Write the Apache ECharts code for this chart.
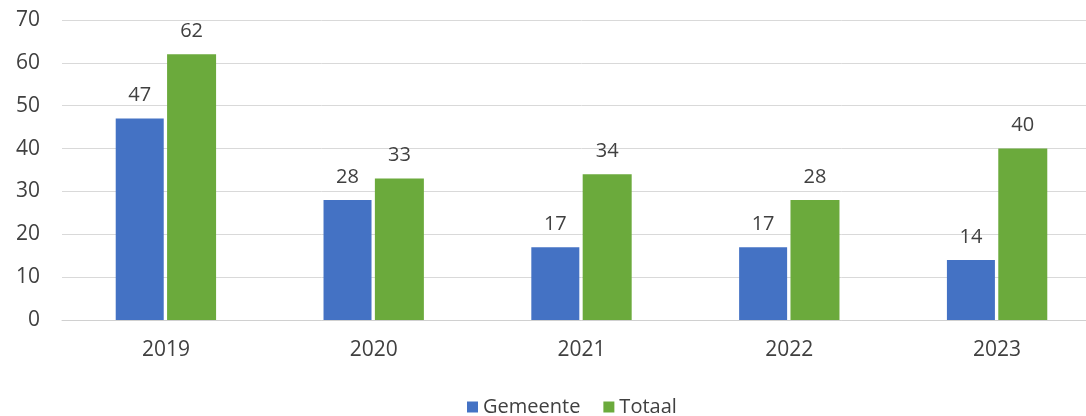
<!DOCTYPE html>
<html><head><meta charset="utf-8">
<script src="https://cdn.jsdelivr.net/npm/echarts@6/dist/echarts.min.js"></script>
<style>html,body{margin:0;padding:0;background:#fff;overflow:hidden;width:1086px;height:416px}#c{width:1110px;height:416px}</style>
</head><body><div id="c"></div>
<script>
const categories = ['2019','2020','2021','2022','2023'];
const gemeente = [47, 28, 17, 17, 14];
const totaal = [62, 33, 34, 28, 40];
const yTicks = {min:0, max:70, interval:10};

const font = 'Open Sans, Liberation Sans, sans-serif';
const chart = echarts.init(document.getElementById('c'));
chart.setOption({
  animation:false,
  textStyle:{fontFamily:font},
  grid:{left:62, width:1039, top:20, height:300},
  legend:{top:392, left:462, itemWidth:11, itemHeight:11, itemGap:23,
    icon:'rect', textStyle:{fontSize:20, color:'#404040', fontFamily:font},
    data:['Gemeente','Totaal']},
  xAxis:{type:'category', data:categories,
    axisLine:{lineStyle:{color:'#d0d0d0'}}, axisTick:{show:false},
    axisLabel:{fontSize:21, color:'#404040', margin:20}},
  yAxis:{type:'value', min:yTicks.min, max:yTicks.max, interval:yTicks.interval,
    axisLine:{show:false}, axisTick:{show:false},
    splitLine:{lineStyle:{color:'#d9d9d9'}},
    axisLabel:{fontSize:21, color:'#404040', margin:22}},
  series:[
    {name:'Gemeente', type:'bar', data:gemeente, barWidth:48, barGap:'7%',
     itemStyle:{color:'#4472C4'},
     label:{show:true, position:'top', distance:13, fontSize:20, color:'#404040'}},
    {name:'Totaal', type:'bar', data:totaal, barWidth:49,
     itemStyle:{color:'#6BAA3C'},
     label:{show:true, position:'top', distance:13, fontSize:20, color:'#404040'}}
  ]
});
</script></body></html>
